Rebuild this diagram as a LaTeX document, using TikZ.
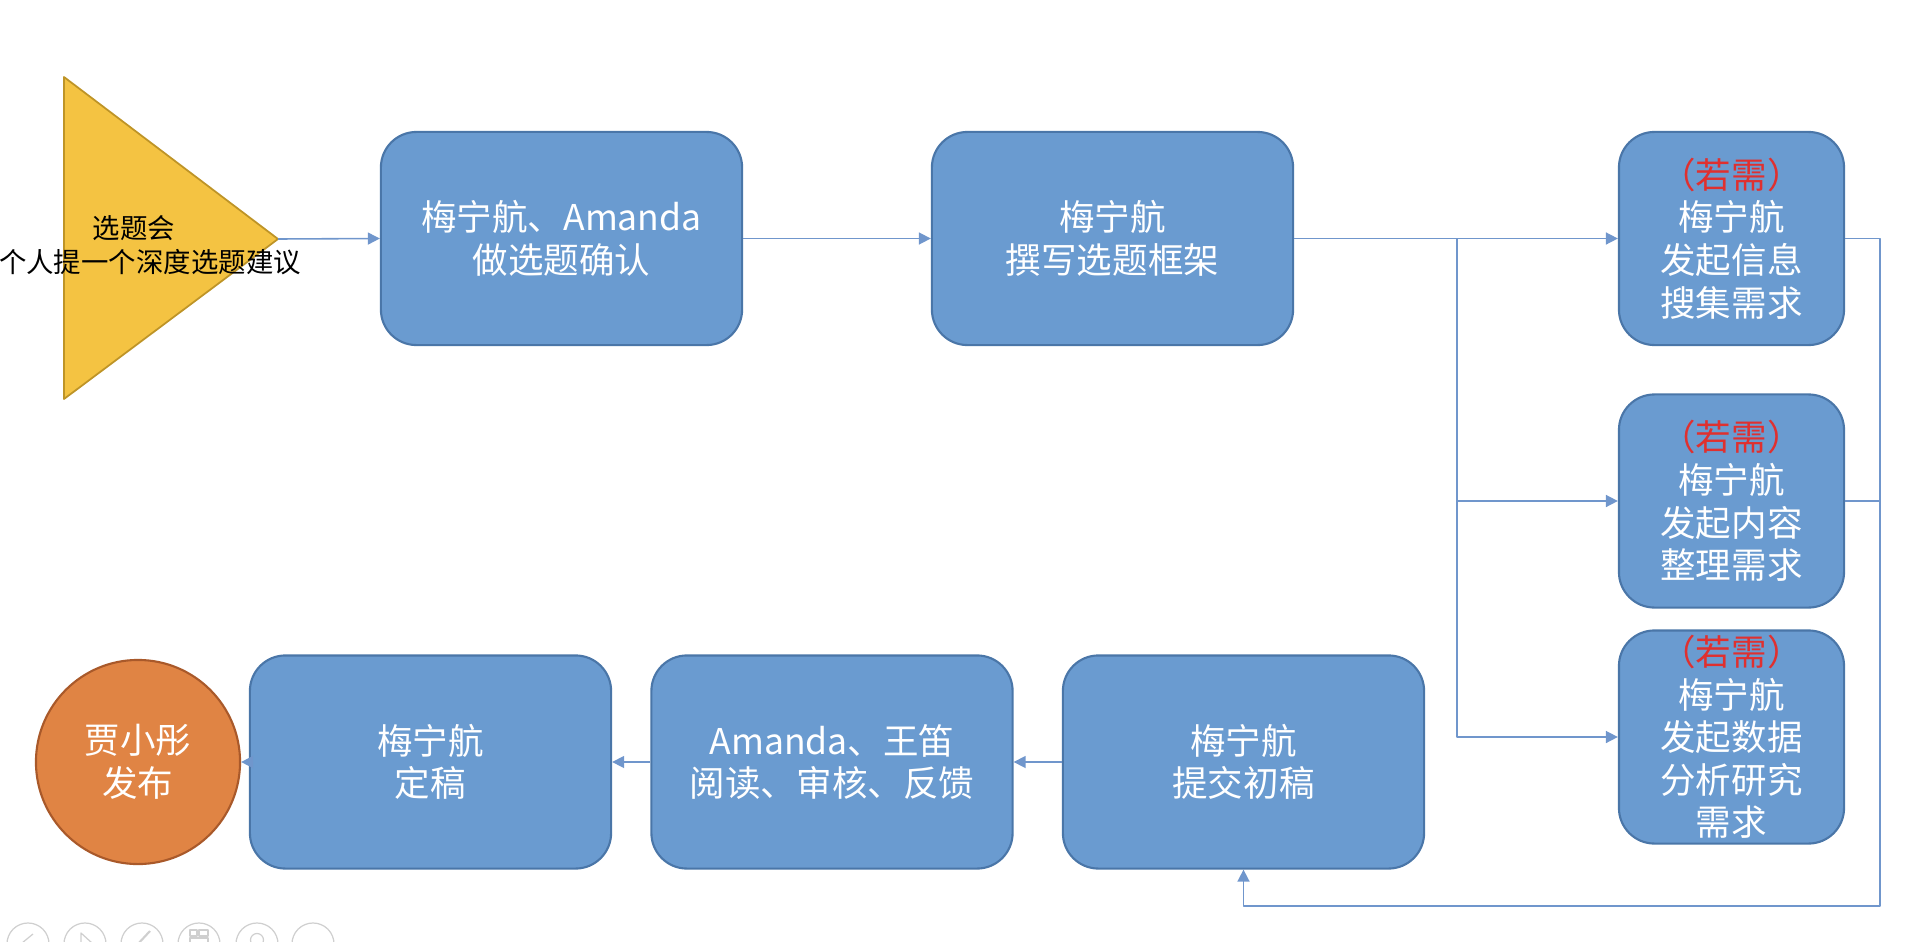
\documentclass[tikz,border=0pt]{standalone}
\usepackage{fontspec}
\setmainfont{Noto Sans CJK SC}
\usetikzlibrary{arrows.meta}
\usetikzlibrary{positioning}

\definecolor{boxblue}{HTML}{6A9BD0}
\definecolor{boxedge}{HTML}{4A76A8}
\definecolor{linkblue}{HTML}{7096CC}
\definecolor{needred}{HTML}{E0302F}
\definecolor{triyellow}{HTML}{F4C342}
\definecolor{triedge}{HTML}{BE9427}
\definecolor{puborange}{HTML}{E08444}
\definecolor{pubedge}{HTML}{A9592A}
\definecolor{toolgray}{HTML}{CFCFCF}

\tikzset{
  flowbox/.style={rectangle, rounded corners=0.355cm, draw=boxedge, fill=boxblue,
    line width=0.6pt, minimum width=3.61cm, minimum height=2.13cm, inner sep=0pt,
    text=white, align=center, font=\fontsize{10.1}{12.1}\selectfont},
  needbox/.style={flowbox, minimum width=2.25cm},
  pubcircle/.style={circle, draw=pubedge, fill=puborange, line width=0.6pt,
    minimum size=2.04cm, inner sep=0pt, text=white, align=center,
    font=\fontsize{10.1}{12.1}\selectfont},
  link/.style={draw=linkblue, line width=0.45pt},
  tool/.style={draw=toolgray, line width=0.35pt}
}
\newcommand\ifneed{\textcolor{needred}{（若需）}}

\begin{document}
\begin{tikzpicture}[line join=round,>={Triangle[length=3.4pt,width=3.4pt]},x=0.01cm,y=-0.01cm]
\useasboundingbox (0,0) rectangle (1920,942);
% topic meeting
\draw[draw=triedge, fill=triyellow, line width=0.5pt] (64,77) -- (278,239) -- (64,399) -- cycle;
\coordinate (tri) at (278,239);
\node[align=center, font=\fontsize{7.8}{9.7}\selectfont, inner sep=0pt] (meet) at (150,245) {选题会\hspace*{1.17em}\\个人提一个深度选题建议};
% top row
\node[flowbox] (pick) at (561.5,238.5) {梅宁航、Amanda\\做选题确认};
\node[flowbox] (frame) at (1112.5,238.5) {梅宁航\\撰写选题框架};
\node[needbox] (info) at (1731.5,238.5) {\ifneed\\梅宁航\\发起信息\\搜集需求};
\node[needbox] (sort) at (1731.5,501) {\ifneed\\梅宁航\\发起内容\\整理需求};
\node[needbox] (data) at (1731.5,737) {\ifneed\\梅宁航\\发起数据\\分析研究\\需求};
% bottom row
\node[flowbox] (draft) at (1243.5,762) {梅宁航\\提交初稿};
\node[flowbox] (review) at (832,762) {Amanda、王笛\\阅读、审核、反馈};
\node[flowbox] (final) at (430.5,762) {梅宁航\\定稿};
\node[pubcircle] (publish) at (138,762) {贾小彤\\发布};
% connectors
\coordinate (split) at (1457,238.5);
\coordinate (rtop) at (1880,238.5);
\coordinate (rbot) at (1880,906);
\draw[link,->] (tri) -- (pick.west);
\draw[link,->] (pick) -- (frame);
\draw[link,->] (frame) -- (info);
\draw[link,->] (split) |- (sort.west);
\draw[link,->] (split) |- (data.west);
\draw[link] (sort.east) -- (sort.east -| rtop);
\draw[link,->] (info.east) -- (rtop) -- (rbot) -| (draft.south);
\draw[link,->] (draft) -- (review);
\draw[link,->] (review) -- (final);
\draw[link,->] (final) -- (publish);
% slide show tool bar
\draw[tool] (28,944) circle (0.21cm);
\draw[tool] (85,944) circle (0.21cm);
\draw[tool] (142,944) circle (0.21cm);
\draw[tool] (199,944) circle (0.21cm);
\draw[tool] (257,944) circle (0.21cm);
\draw[tool] (313,944) circle (0.21cm);
\draw[tool] (33,934) -- (22,943) -- (33,952);
\draw[tool] (81,933) -- (92,943) -- (81,953) -- cycle;
\draw[tool, line width=0.6pt] (150,931) -- (137,945);
\draw[tool] (190,930) rectangle (197,936) (199,930) rectangle (208,936) (190,938) rectangle (208,944);
\draw[tool] (257,940) circle (0.065cm);
\end{tikzpicture}
\end{document}
